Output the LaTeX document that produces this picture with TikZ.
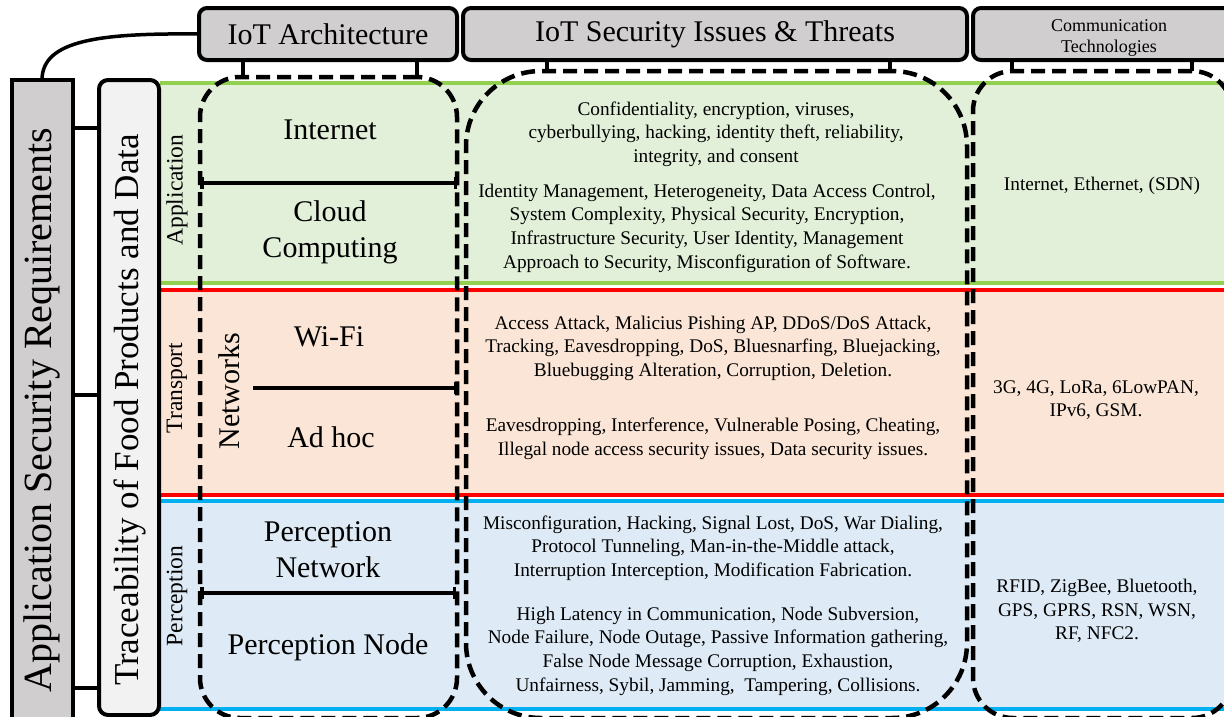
\documentclass[tikz,border=0pt]{standalone}
\usepackage{fontspec}
\setmainfont{Liberation Serif}
\usetikzlibrary{arrows.meta}
\definecolor{hdr}{HTML}{D0CECE}
\definecolor{trc}{HTML}{F2F2F2}
\definecolor{gfill}{HTML}{E2F0D9}
\definecolor{ofill}{HTML}{FBE5D6}
\definecolor{bfill}{HTML}{DEEBF7}
\definecolor{gline}{HTML}{92D050}
\definecolor{rline}{HTML}{FF0000}
\definecolor{bline}{HTML}{00B0F0}
\begin{document}
\begin{tikzpicture}[x=1pt,y=-1pt,
  every node/.style={outer sep=0pt,inner sep=0pt},
  hdrbox/.style={draw=black,line width=4pt,fill=hdr,rounded corners=8pt},
  dbox/.style={draw=black,line width=4.5pt,dash pattern=on 14pt off 7pt},
  big/.style={font=\fontsize{30}{36}\selectfont,align=center},
  body/.style={font=\fontsize{19.3}{23.6}\selectfont,align=center},
  vlab/.style={font=\fontsize{23.5}{28}\selectfont,rotate=90},
  sepline/.style={line width=3.5pt},
  stubline/.style={line width=3.5pt},
  bandline/.style={line width=4pt},
  link/.style={line width=3.5pt}]
\useasboundingbox (0,0) rectangle (1224,716);
\clip (0,0) rectangle (1224,716);
% bands
\fill[gfill] (160,83) rectangle (1240,283);
\fill[ofill] (160,290) rectangle (1240,495);
\fill[bfill] (160,501) rectangle (1240,709);
\draw[bandline,gline] (160,83) -- (1240,83);
\draw[bandline,gline] (160,283) -- (1240,283);
\draw[bandline,rline] (160,290) -- (1240,290);
\draw[bandline,rline] (160,495) -- (1240,495);
\draw[bandline,bline] (160,501) -- (1240,501);
\draw[bandline,bline] (160,709) -- (1240,709);
% left columns
\node[draw=black,line width=4pt,fill=hdr,minimum width=61pt,minimum height=680pt,anchor=north west] (asr) at (12,80) {};
\node[draw=black,line width=4pt,fill=trc,rounded corners=9pt,minimum width=60pt,minimum height=635pt,anchor=north west] (trc) at (99,80) {};
\node[font=\fontsize{40}{48}\selectfont,rotate=90] (asrt) at (42,410) {Application Security Requirements};
\node[font=\fontsize{35}{42}\selectfont,rotate=90] (trct) at (130,410) {Traceability of Food Products and Data};
% headers
\node[hdrbox,big,minimum width=258pt,minimum height=52pt] (harch) at (328,34) {IoT Architecture};
\node[hdrbox,big,minimum width=504pt,minimum height=52pt] (hsec) at (715,34) {IoT Security Issues \& Threats};
\node[hdrbox,minimum width=272pt,minimum height=52pt] (hcom) at (1109,34) {};
\node[font=\fontsize{18}{21}\selectfont,align=center] (hcomt) at (1109,38) {Communication\\Technologies};
% dashed containers
\node[dbox,rounded corners=40pt,minimum width=257pt,minimum height=641pt] (darch) at (328.5,397.5) {};
\node[dbox,rounded corners=75pt,minimum width=501pt,minimum height=647pt] (dsec) at (716.5,394.5) {};
\node[dbox,rounded corners=40pt,minimum width=259pt,minimum height=647pt] (dcom) at (1102.5,394.5) {};
% stubs
\coordinate (sa1) at (243,77); \coordinate (sa2) at (417,77);
\coordinate (ss1) at (547,71); \coordinate (ss2) at (890,71);
\coordinate (sc1) at (1012,71); \coordinate (sc2) at (1192,71);
\draw[stubline] (harch.south -| sa1) -- (sa1);
\draw[stubline] (harch.south -| sa2) -- (sa2);
\draw[stubline] (hsec.south -| ss1) -- (ss1);
\draw[stubline] (hsec.south -| ss2) -- (ss2);
\draw[stubline] (hcom.south -| sc1) -- (sc1);
\draw[stubline] (hcom.south -| sc2) -- (sc2);
% ASR links
\draw[link] (asr.north -| 42,0) .. controls (42,40) and (100,33) .. (harch.west);
\coordinate (l1) at (99,128); \coordinate (l2) at (99,395); \coordinate (l3) at (99,688);
\draw[link] (asr.east |- l1) -- (l1);
\draw[link] (asr.east |- l2) -- (l2);
\draw[link] (asr.east |- l3) -- (l3);
% vertical small labels
\node[vlab] (lapp) at (177,190) {Application};
\node[vlab] (ltra) at (177,388) {Transport};
\node[vlab] (lper) at (177,596) {Perception};
\node[big,rotate=90] (lnet) at (229,391) {Networks};
% architecture texts
\node[big] (tint) at (330,130) {Internet};
\node[big] (tcc) at (330,232) {Cloud\\Computing};
\node[big] (twifi) at (329,337) {Wi-Fi};
\node[big] (tadhoc) at (331,437) {Ad hoc};
\node[big] (tpn) at (328,550) {Perception\\Network};
\node[big] (tpnode) at (328,647) {Perception Node};
% separators
\coordinate (s1a) at (200,183); \coordinate (s1b) at (457,183);
\coordinate (s2a) at (253,388); \coordinate (s2b) at (457,388);
\coordinate (s3a) at (200,593); \coordinate (s3b) at (456,593);
\draw[sepline,{Bar[width=12pt]}-{Bar[width=12pt]}] (s1a) -- (s1b);
\draw[sepline,-{Bar[width=12pt]}] (s2a) -- (s2b);
\draw[sepline,{Bar[width=12pt]}-{Bar[width=12pt]}] (s3a) -- (s3b);
% security texts
\node[body] (sa) at (716,134) {Confidentiality, encryption, viruses,\\cyberbullying, hacking, identity theft, reliability,\\integrity, and consent};
\node[body] (sb) at (707,228) {Identity Management, Heterogeneity, Data Access Control,\\System Complexity, Physical Security, Encryption,\\Infrastructure Security, User Identity, Management\\Approach to Security, Misconfiguration of Software.};
\node[body] (sc) at (713,348) {Access Attack, Malicius Pishing AP, DDoS/DoS Attack,\\Tracking, Eavesdropping, DoS, Bluesnarfing, Bluejacking,\\Bluebugging Alteration, Corruption, Deletion.};
\node[body] (sd) at (713,439) {Eavesdropping, Interference, Vulnerable Posing, Cheating,\\Illegal node access security issues, Data security issues.};
\node[body] (se) at (713,548) {Misconfiguration, Hacking, Signal Lost, DoS, War Dialing,\\Protocol Tunneling, Man-in-the-Middle attack,\\Interruption Interception, Modification Fabrication.};
\node[body] (sf) at (718,651) {High Latency in Communication, Node Subversion,\\Node Failure, Node Outage, Passive Information gathering,\\False Node Message Corruption, Exhaustion,\\Unfairness, Sybil, Jamming,\ \ Tampering, Collisions.};
% communication texts
\node[body] (ca) at (1102,186) {Internet, Ethernet, (SDN)};
\node[body] (cb) at (1096,400) {3G, 4G, LoRa, 6LowPAN,\\IPv6, GSM.};
\node[body] (cc) at (1097,611) {RFID, ZigBee, Bluetooth,\\GPS, GPRS, RSN, WSN,\\RF, NFC2.};
\end{tikzpicture}
\end{document}
